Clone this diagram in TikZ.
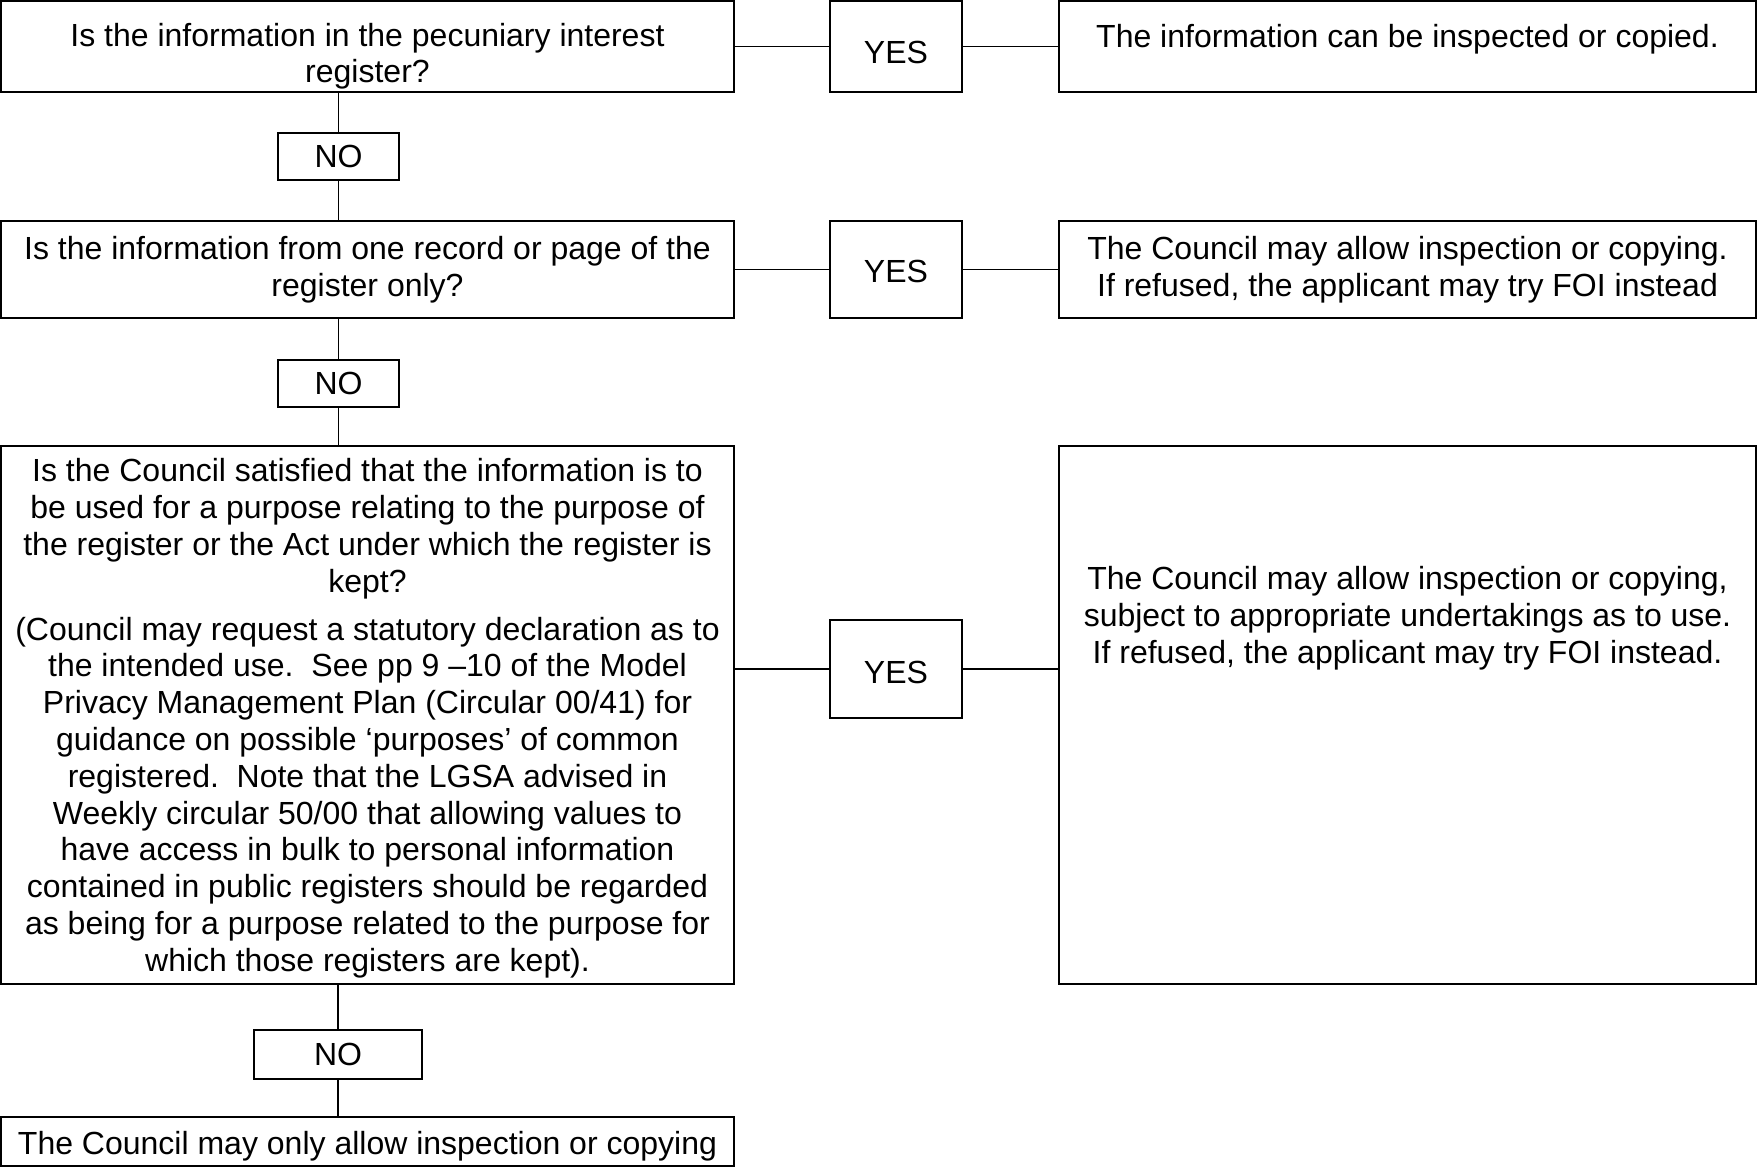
\documentclass[tikz,border=0pt]{standalone}
\usepackage{fontspec}
\setmainfont{Liberation Sans}
\newcommand\dropline[2]{\raisebox{-#1}[\height][\depth]{#2}}
\begin{document}
\begin{tikzpicture}[x=0.5pt,y=-0.5pt,
  txt/.style={font=\fontsize{16}{18.5}\selectfont, align=center, inner sep=0pt},
  box/.style={txt, draw, line width=1pt, rectangle},
  qbox/.style={box, minimum width=366.5pt},
  ybox/.style={box, minimum width=66pt},
  rbox/.style={box, minimum width=348.5pt},
  nbox/.style={box, minimum width=60.5pt, minimum height=23.5pt},
  conn/.style={line width=0.9pt}]
\fill[white] (0,0) rectangle (1757,1168);
\useasboundingbox (0,0) rectangle (1757,1168);

% row 1
\node[qbox, minimum height=45.5pt, font=\fontsize{16}{18}\selectfont] (q1) at (367.5,46.5)
  {\dropline{5pt}{Is the information in the pecuniary interest}\\\dropline{5pt}{register?}};
\node[ybox, minimum height=45.5pt] (y1) at (896,46.5) {\dropline{2.8pt}{YES}};
\node[rbox, minimum height=45.5pt] (r1) at (1407.5,46.5)
  {\dropline{4pt}{The information can be inspected or copied.}\\\mbox{}};
\node[nbox] (n1) at (338.5,156.5) {NO};

% row 2
\node[qbox, minimum height=48.5pt] (q2) at (367.5,269.5)
  {Is the information from one record or page of the\\register only?};
\node[ybox, minimum height=48.5pt] (y2) at (896,269.5) {\dropline{1pt}{YES}};
\node[rbox, minimum height=48.5pt] (r2) at (1407.5,269.5)
  {The Council may allow inspection or copying.\\If refused, the applicant may try FOI instead};
\node[nbox] (n2) at (338.5,383.5) {NO};

% row 3
\node[qbox, minimum height=269pt, font=\fontsize{16}{18.4}\selectfont] (q3) at (367.5,715)
  {\dropline{1.7pt}{Is the Council satisfied that the information is to}\\
   \dropline{1.7pt}{be used for a purpose relating to the purpose of}\\
   \dropline{1.7pt}{the register or the Act under which the register is}\\
   \dropline{1.7pt}{kept?}\\[5.5pt]
   \dropline{1.7pt}{(Council may request a statutory declaration as to}\\
   \dropline{1.7pt}{the intended use.\ \ See pp 9 –10 of the Model}\\
   \dropline{1.7pt}{Privacy Management Plan (Circular 00/41) for}\\
   \dropline{1.7pt}{guidance on possible ‘purposes’ of common}\\
   \dropline{1.7pt}{registered.\ \ Note that the LGSA advised in}\\
   \dropline{1.7pt}{Weekly circular 50/00 that allowing values to}\\
   \dropline{1.7pt}{have access in bulk to personal information}\\
   \dropline{1.7pt}{contained in public registers should be regarded}\\
   \dropline{1.7pt}{as being for a purpose related to the purpose for}\\
   \dropline{1.7pt}{which those registers are kept).}};
\node[ybox, minimum height=49pt] (y3) at (896,669) {\dropline{1.7pt}{YES}};
\node[rbox, minimum height=269pt] (r3) at (1407.5,715) {};
\node[txt] (r3t) at (1407.5,618.5)
  {The Council may allow inspection or copying,\\
   subject to appropriate undertakings as to use.\\
   If refused, the applicant may try FOI instead.};
\node[box, minimum width=84pt, minimum height=24.5pt] (n3) at (338,1054.5) {NO};
\node[qbox, minimum height=24.5pt] (q4) at (367.5,1141.5)
  {\dropline{2.2pt}{The Council may only allow inspection or copying}};

% connectors
\draw[conn] (q1.east) -- (y1.west);
\draw[conn] (y1.east) -- (r1.west);
\draw[conn] (q2.east) -- (y2.west);
\draw[conn] (y2.east) -- (r2.west);
\draw[conn] (y3.west -| q3.east) -- (y3.west);
\draw[conn] (y3.east) -- (y3.east -| r3.west);

\draw[conn] (n1.north |- q1.south) -- (n1.north);
\draw[conn] (n1.south) -- (n1.south |- q2.north);
\draw[conn] (n2.north |- q2.south) -- (n2.north);
\draw[conn] (n2.south) -- (n2.south |- q3.north);
\draw[conn] (n3.north |- q3.south) -- (n3.north);
\draw[conn] (n3.south) -- (n3.south |- q4.north);
\end{tikzpicture}
\end{document}
